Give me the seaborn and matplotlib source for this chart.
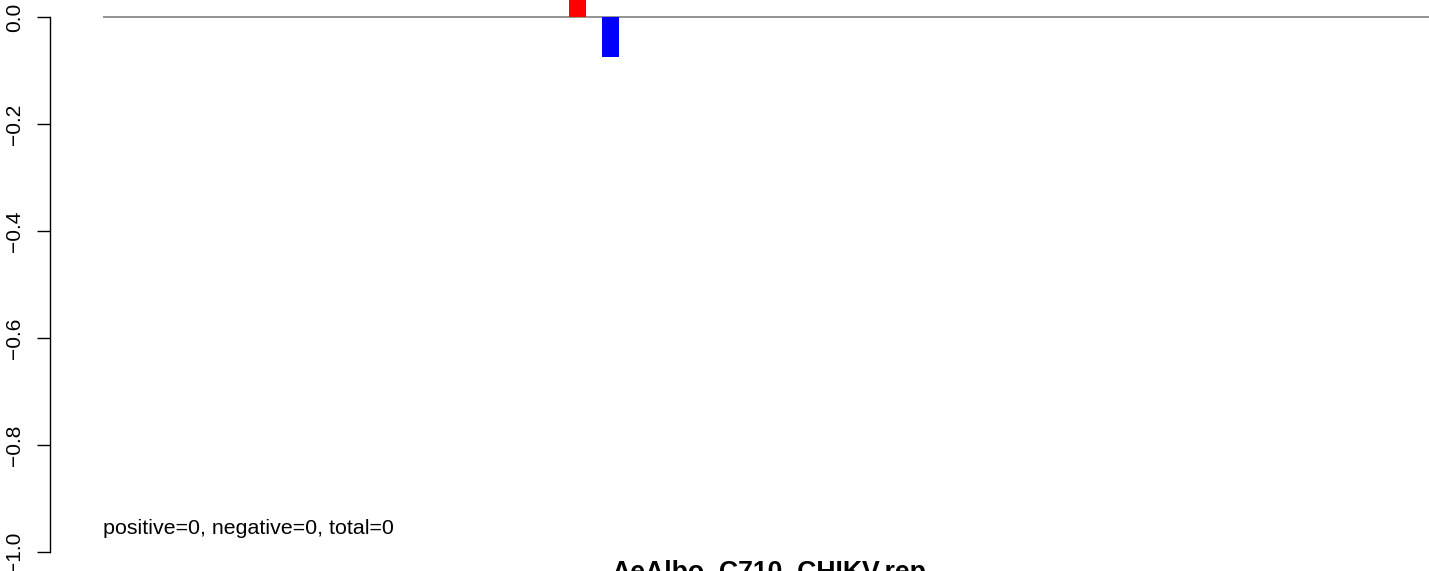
import matplotlib
matplotlib.use("Agg")
import matplotlib.pyplot as plt
import seaborn as sns
import pandas as pd

# data
categories = ["positive", "negative"]
values = [0.05, -0.075]
bar_colors = ["#FF0000", "#0000FF"]
y_ticks = [0.0, -0.2, -0.4, -0.6, -0.8, -1.0]
y_tick_labels = ["0.0", "\u22120.2", "\u22120.4", "\u22120.6", "\u22120.8", "\u22121.0"]
track_start = -14.38
track_end = 40.0
annotation = "positive=0, negative=0, total=0"
title = "AeAlbo_C710_CHIKV.rep"

sns.set_style("white")
plt.rcParams["font.family"] = ["Liberation Sans", "DejaVu Sans"]
plt.rcParams["text.color"] = "black"
plt.rcParams["ytick.color"] = "black"

W, H = 1429, 571
fig = plt.figure(figsize=(W / 100, H / 100), dpi=100)
ax = fig.add_axes([50 / W, 0, 1 - 50 / W, 1])

df = pd.DataFrame({"cat": categories, "val": values})
sns.barplot(data=df, x="cat", y="val", hue="cat", palette=bar_colors,
            width=0.52, legend=False, ax=ax, saturation=1, linewidth=0)

px_unit = 33.0
x0 = 577.5
ax.set_xlim((50 - x0) / px_unit, (W - x0) / px_unit)
ppy = 535.0
ax.set_ylim(-1 - (H - 552) / ppy, 17 / ppy)

ax.hlines(0, track_start, track_end, color="#808080", lw=1.2, zorder=0)

for s in ["top", "right", "bottom"]:
    ax.spines[s].set_visible(False)
ax.spines["left"].set_bounds(-1, 0)
ax.spines["left"].set_color("black")
ax.spines["left"].set_linewidth(1.0)
ax.set_xticks([])
ax.set_xlabel("")
ax.set_ylabel("")
ax.set_yticks(y_ticks)
ax.set_yticklabels(y_tick_labels, rotation=90, va="center", fontsize=15)
ax.tick_params(axis="y", direction="out", length=9.4, width=1.0, color="black",
               left=True, pad=9, labelcolor="black")

fig.text(103 / W, 1 - 529 / H, annotation, fontsize=15.4, ha="left", va="center",
         color="black")
fig.text(769 / W, 1 - 560 / H, title, fontsize=19.2, fontweight="bold",
         ha="center", va="top", color="black")

fig.savefig("out.png", dpi=100)
